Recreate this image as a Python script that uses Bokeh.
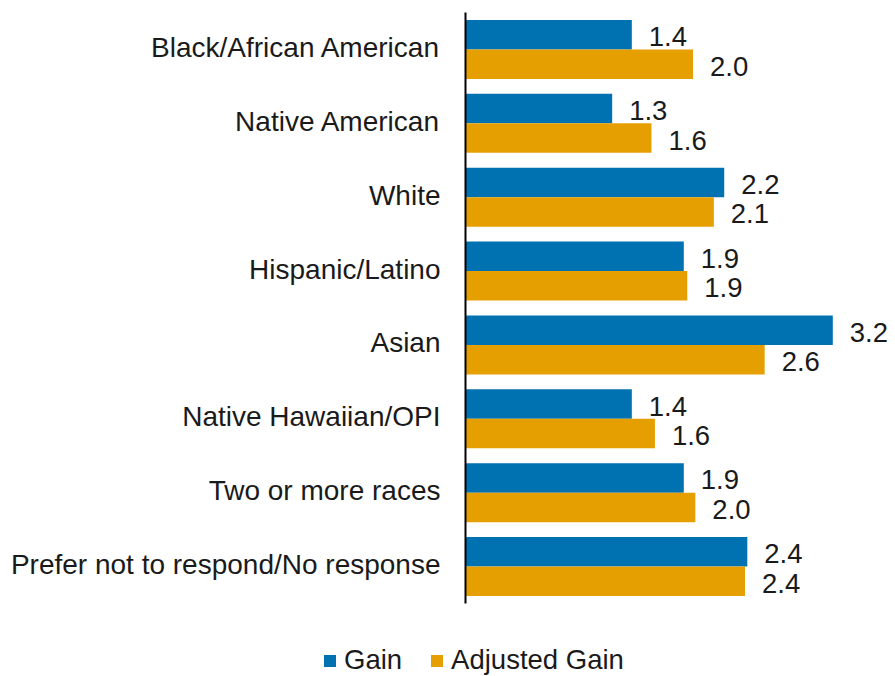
from bokeh.plotting import figure
from bokeh.models import ColumnDataSource, Range1d, Legend, LegendItem
from bokeh.transform import dodge
from bokeh.core.properties import value
from bokeh.embed import file_html
from bokeh.resources import INLINE

categories = ["Black/African American", "Native American", "White", "Hispanic/Latino",
              "Asian", "Native Hawaiian/OPI", "Two or more races",
              "Prefer not to respond/No response"]
gain = [1.44, 1.27, 2.24, 1.89, 3.18, 1.44, 1.89, 2.44]
adjusted_gain = [1.97, 1.61, 2.15, 1.92, 2.59, 1.64, 1.99, 2.42]
series_names = ["Gain", "Adjusted Gain"]

BLUE = "#0072B2"
ORANGE = "#E69F00"
FONT = "Liberation Sans"
FS_CAT = "28px"
FS = "27.5px"
TXT = "#1a1a1a"

n = len(categories)
src = ColumnDataSource(dict(
    cat=categories,
    pos=[n - 1 - i for i in range(n)],      # first category on top
    gain=gain,
    adj=adjusted_gain,
    gain_lbl=[f"{v:.1f}" for v in gain],
    adj_lbl=[f"{v:.1f}" for v in adjusted_gain],
))

# pixel layout: value axis at x=465px, 115.5 px per unit; category band 73.875 px
W, H = 887, 676
AX = 465
XS = 115.5
BAND = 73.875
TOP = 12
x_start = -AX / XS
x_end = (W - AX) / XS
y_end = (n - 0.5) + TOP / BAND
y_start = -0.5 - (H - TOP - n * BAND) / BAND

p = figure(width=W, height=H, output_backend="svg", toolbar_location=None,
           x_range=Range1d(x_start, x_end), y_range=Range1d(y_start, y_end),
           x_axis_location=None, y_axis_location=None,
           min_border_left=0, min_border_right=0, min_border_top=0, min_border_bottom=0)
p.xgrid.grid_line_color = None
p.ygrid.grid_line_color = None
p.outline_line_color = None

r_gain = p.hbar(y=dodge("pos", 0.2), right="gain", left=0, height=0.4,
                source=src, fill_color=BLUE, line_color=None)
r_adj = p.hbar(y=dodge("pos", -0.2), right="adj", left=0, height=0.4,
               source=src, fill_color=ORANGE, line_color=None)

# value labels
p.text(x="gain", y=dodge("pos", 0.2), text="gain_lbl", source=src,
       x_offset=17, y_offset=2, text_baseline="middle", text_align="left",
       text_font=value(FONT), text_font_size=FS, text_color=TXT)
p.text(x="adj", y=dodge("pos", -0.2), text="adj_lbl", source=src,
       x_offset=17, y_offset=2, text_baseline="middle", text_align="left",
       text_font=value(FONT), text_font_size=FS, text_color=TXT)

# category axis: line and labels
p.segment(x0=0, y0=-0.5, x1=0, y1=n - 0.5, line_color="black", line_width=2)
p.text(x=0, y="pos", text="cat", source=src, x_offset=-25, y_offset=-2,
       text_align="right", text_baseline="middle",
       text_font=value(FONT), text_font_size=FS_CAT, text_color=TXT)

legend = Legend(items=[LegendItem(label=series_names[0], renderers=[r_gain]),
                       LegendItem(label=series_names[1], renderers=[r_adj])],
                orientation="horizontal", location=(322, 0),
                glyph_width=15, glyph_height=15, label_standoff=7, spacing=27,
                padding=0, margin=0, border_line_color=None, background_fill_alpha=0,
                label_text_font=FONT, label_text_font_size=FS, label_text_color=TXT)
p.add_layout(legend, "center")

open("out.html", "w").write(file_html(p, INLINE))
